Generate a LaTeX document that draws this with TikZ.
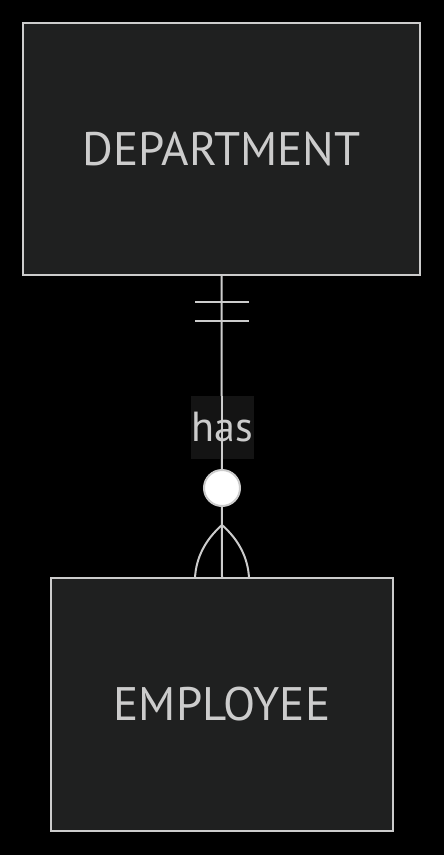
\documentclass[tikz,border=0pt]{standalone}
\usepackage{fontspec}
\setmainfont{PT Sans}
\definecolor{bg}{HTML}{000000}
\definecolor{boxfill}{HTML}{1F2020}
\definecolor{edge}{HTML}{CCCCCC}
\definecolor{txt}{HTML}{CCCCCC}
\definecolor{lblbg}{HTML}{141414}
\tikzset{
  entity/.style={draw=edge, fill=boxfill, line width=2pt, inner sep=0pt, text=txt, font=\fontsize{47}{52}\selectfont},
  rel/.style={draw=edge, line width=2pt},
  lbl/.style={fill=lblbg, text=txt, inner sep=0pt, minimum width=63pt, minimum height=63pt, font=\fontsize{42}{48}\selectfont}
}
\begin{document}
\begin{tikzpicture}[x=1pt,y=-1pt]
\fill[bg] (0,0) rectangle (444,855);
\useasboundingbox (0,0) rectangle (444,855);
\node[entity, minimum width=397pt, minimum height=252pt] (dept) at (221.5,149) {DEPARTMENT};
\node[entity, minimum width=342pt, minimum height=253pt] (emp) at (222,704.5) {EMPLOYEE};
\draw[rel] (dept.south) -- (emp.north);
\node[lbl] (has) at (222,427.5) {has};
\draw[rel] (has.north) -- (has.south);
% one-and-only-one bars
\draw[rel] (195,302) -- (249,302);
\draw[rel] (195,321) -- (249,321);
% zero circle
\node[circle, draw=edge, fill=white, line width=2pt, minimum size=36pt, inner sep=0pt] (zero) at (222,488) {};
% crow foot
\coordinate (fk) at (222,525);
\draw[rel] (fk) .. controls (205,540) and (196,558) .. (195,578);
\draw[rel] (fk) .. controls (239,540) and (248,558) .. (249,578);
\end{tikzpicture}
\end{document}
